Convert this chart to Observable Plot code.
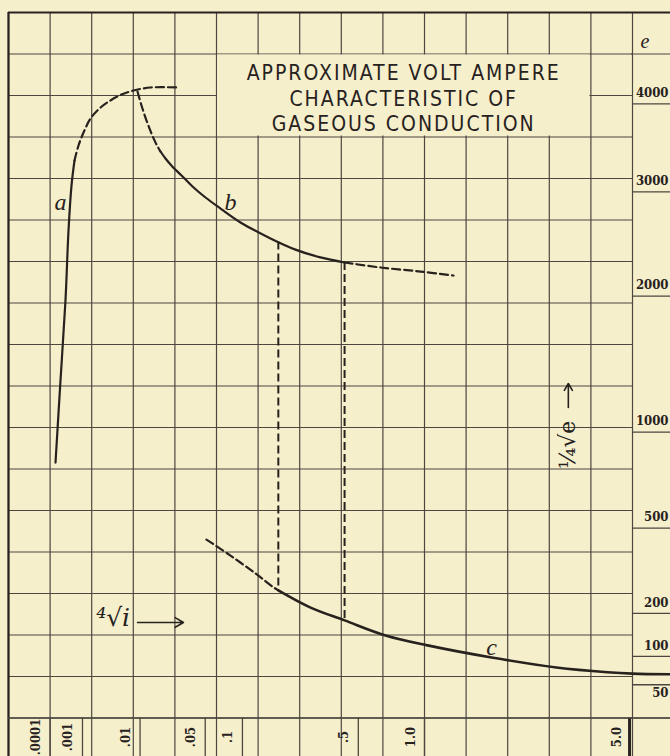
<!DOCTYPE html>
<html>
<head>
<meta charset="utf-8">
<script src="https://cdn.jsdelivr.net/npm/d3@7"></script>
<script src="https://cdn.jsdelivr.net/npm/@observablehq/plot@0.6"></script>
<style>
  html, body { margin: 0; padding: 0; background: #f6efcc; }
  #chart svg { display: block; }
</style>
</head>
<body>
<div id="chart"></div>
<script>
// ---- Data (current i in amperes, voltage e in volts) ----
// curve a
const aSolidI = [0.000163, 0.000244, 0.000352, 0.000433, 0.000526, 0.000634];
const aSolidE = [763, 1262, 1870, 2499, 2951, 3219];
const aDashI  = [0.000634, 0.000802, 0.00111, 0.00151, 0.00229, 0.00361, 0.00544, 0.00815, 0.0136, 0.0273];
const aDashE  = [3219, 3385, 3555, 3694, 3813, 3909, 3980, 4030, 4067, 4067];
// curve b
const bDashTopI = [0.00925, 0.01045, 0.01211, 0.01396, 0.01602, 0.01782];
const bDashTopE = [4017, 3848, 3671, 3521, 3396, 3318];
const bSolidI = [0.01782, 0.02029, 0.02415, 0.02991, 0.03827, 0.05029, 0.06745, 0.09673, 0.1573, 0.2265, 0.316, 0.426];
const bSolidE = [3318, 3241, 3152, 3057, 2941, 2827, 2715, 2577, 2423, 2318, 2246, 2200];
const bDashTailI = [0.426, 0.639, 0.962, 1.31];
const bDashTailE = [2200, 2155, 2119, 2084];
// curve c
const cDashI = [0.0513, 0.0811, 0.124, 0.165, 0.177];
const cDashE = [408, 348, 287, 243, 234];
const cSolidI = [0.177, 0.278, 0.426, 0.675, 1.03, 1.82, 3.01, 4.30, 5.06, 6.41];
const cSolidE = [234, 186, 154, 120, 100, 78, 62, 55, 53, 52];
// vertical dashed drops between b and c
const dropI = [0.177, 0.426];
const dropTopE = [2390, 2200];
const dropBottomE = [234, 154];

// axis ticks
const iTicks = [0.0001, 0.001, 0.01, 0.05, 0.1, 0.5, 1.0, 5.0];
const iTickLabels = [".0001", ".001", ".01", ".05", ".1", ".5", "1.0", "5.0"];
const eTicks = [4000, 3000, 2000, 1000, 500, 200, 100, 50];

// annotations
const curveNames = ["a", "b", "c"];
const curveNameI = [0.000244, 0.0811, 1.82];
const curveNameE = [2774, 2774, 96];
const titleLines = ["APPROXIMATE VOLT AMPERE", "CHARACTERISTIC OF", "GASEOUS CONDUCTION"];
const xName = "\u2074\u221Ai";
const xNameAnchor = {i: 0.00400, e: 160};
const xArrowI = [0.00925, 0.0313];
const xArrowE = 149;
const yName = "\u00BC\u221Ae";
const yNameAnchor = {i: 3.28, e: 860};
const yArrowI = 3.28;
const yArrowE = [1084, 1242];

// graph-paper ruling: every 0.1 of the fourth root of i, every 4 of the square root of e
const gridRootI = d3.range(0, 16).map(k => k / 10);
const gridI = gridRootI.map(r => r ** 4);
const gridSqrtE = d3.range(0, 18).map(k => 3 + 4 * k);
const gridE = gridSqrtE.map(s => s * s);
const boxRootI = [0.5, 1.4];
const boxSqrtE = [59, 67];

const zip = (xs, ys) => xs.map((x, k) => ({i: x, e: ys[k]}));

const ink = "#27221e";
const gridInk = "#4d4740";
const paper = "#f6efcc";
const serif = "'DejaVu Serif Condensed', 'DejaVu Serif', serif";
const italic = "'Liberation Serif', 'DejaVu Serif', serif";
const dash = "8,4";

const W = 670, H = 756;
const mL = 8, mR = 38, mT = 12, mB = 38.5;
const frameW = W - mL - mR, frameH = H - mT - mB;

const chart = Plot.plot({
  width: W,
  height: H,
  marginLeft: mL, marginRight: mR, marginTop: mT, marginBottom: mB,
  style: {background: paper, overflow: "visible"},
  x: {type: "pow", exponent: 0.25, domain: [0, 1.5 ** 4], axis: null},
  y: {type: "sqrt", domain: [gridE[0], gridE[gridE.length - 1]], axis: null},
  marks: [
    // vertical ruling (extends through the label row)
    Plot.ruleX(gridI, {stroke: gridInk, strokeWidth: 1.2, insetBottom: -mB}),
    // horizontal ruling
    Plot.ruleY(gridE, {stroke: gridInk, strokeWidth: 1.2}),
    // lines continuing into the right-hand label column
    Plot.ruleY([gridE[0], gridE[16], gridE[17]], {stroke: gridInk, strokeWidth: 1.2, insetLeft: frameW - 1, insetRight: -mR}),
    // under-rules in the right label column
    Plot.ruleY(eTicks.slice(0, 7), {stroke: gridInk, strokeWidth: 1.3, dy: 11, insetLeft: frameW, insetRight: -mR}),
    Plot.ruleY([eTicks[7]], {stroke: gridInk, strokeWidth: 1.3, dy: 9, insetLeft: frameW, insetRight: -mR}),
    // separators in the bottom label row
    Plot.ruleX(iTicks.slice(0, 7), {stroke: gridInk, strokeWidth: 1.3, insetTop: frameH, insetBottom: -mB}),
    Plot.ruleX([iTicks[7]], {stroke: ink, strokeWidth: 3, dx: -1, insetTop: frameH, insetBottom: -mB}),
    // heavier border on the left and top
    Plot.ruleX([gridI[0]], {stroke: ink, strokeWidth: 2.2, insetBottom: -mB}),
    Plot.ruleY([gridE[17]], {stroke: ink, strokeWidth: 2, insetRight: -mR}),
    Plot.ruleY([gridE[0]], {stroke: gridInk, strokeWidth: 1.6, insetRight: -mR}),

    // cleared box for the title
    Plot.rect([{x1: boxRootI[0] ** 4, x2: boxRootI[1] ** 4, y1: boxSqrtE[0] ** 2, y2: boxSqrtE[1] ** 2}],
      {x1: "x1", x2: "x2", y1: "y1", y2: "y2", fill: paper, inset: 1}),
    Plot.text([titleLines.join("\n")], {
      x: () => ((boxRootI[0] + boxRootI[1]) / 2) ** 4,
      y: () => ((boxSqrtE[0] + boxSqrtE[1]) / 2) ** 2,
      text: d => d, dy: 2, lineHeight: 1.21,
      fontFamily: "'DejaVu Sans Condensed', 'DejaVu Sans', sans-serif",
      fontSize: 21, fill: ink
    }),

    // curve a
    Plot.line(zip(aSolidI, aSolidE), {x: "i", y: "e", curve: "catmull-rom", stroke: ink, strokeWidth: 2.2}),
    Plot.line(zip(aDashI, aDashE), {x: "i", y: "e", curve: "catmull-rom", stroke: ink, strokeWidth: 2.2, strokeDasharray: dash}),
    // curve b
    Plot.line(zip(bDashTopI, bDashTopE), {x: "i", y: "e", curve: "catmull-rom", stroke: ink, strokeWidth: 2.2, strokeDasharray: dash}),
    Plot.line(zip(bSolidI, bSolidE), {x: "i", y: "e", curve: "catmull-rom", stroke: ink, strokeWidth: 2.2}),
    Plot.line(zip(bDashTailI, bDashTailE), {x: "i", y: "e", curve: "catmull-rom", stroke: ink, strokeWidth: 2.2, strokeDasharray: dash}),
    // curve c
    Plot.line(zip(cDashI, cDashE), {x: "i", y: "e", curve: "catmull-rom", stroke: ink, strokeWidth: 2.2, strokeDasharray: dash}),
    Plot.line(zip(cSolidI, cSolidE), {x: "i", y: "e", curve: "catmull-rom", stroke: ink, strokeWidth: 2.6}),
    // vertical dashed drops
    Plot.ruleX(dropI.map((v, k) => ({i: v, top: dropTopE[k], bottom: dropBottomE[k]})),
      {x: "i", y1: "top", y2: "bottom", stroke: ink, strokeWidth: 2, strokeDasharray: dash}),

    // curve names
    Plot.text(curveNames.map((n, k) => ({n, i: curveNameI[k], e: curveNameE[k]})),
      {x: "i", y: "e", text: "n", fontFamily: italic, fontStyle: "italic", fontSize: 24, fill: ink}),

    // x-axis name: fourth root of i, with arrow
    Plot.text([xNameAnchor], {x: "i", y: "e", text: () => xName, fontFamily: "'DejaVu Serif', serif", fontStyle: "italic", fontSize: 25, fill: ink}),
    Plot.arrow([{x1: xArrowI[0], x2: xArrowI[1]}], {x1: "x1", x2: "x2", y1: () => xArrowE, y2: () => xArrowE, stroke: ink, strokeWidth: 1.6, headLength: 9}),

    // y-axis name: root of e, with arrow
    Plot.text([yNameAnchor], {x: "i", y: "e", text: () => yName, rotate: -90, fontFamily: "'DejaVu Serif', serif", fontSize: 22, fill: ink}),
    Plot.arrow([{y1: yArrowE[0], y2: yArrowE[1]}], {x1: () => yArrowI, x2: () => yArrowI, y1: "y1", y2: "y2", stroke: ink, strokeWidth: 1.6, headLength: 9}),

    // y tick labels in the right column
    Plot.text(eTicks.slice(0, 7), {y: d => d, text: d => String(d), frameAnchor: "right", dx: 36, textAnchor: "end",
      fontFamily: serif, fontWeight: "bold", fontSize: 13, fill: ink}),
    Plot.text([eTicks[7]], {y: d => d, text: d => String(d), frameAnchor: "right", dx: 36, dy: 17, textAnchor: "end",
      fontFamily: serif, fontWeight: "bold", fontSize: 13, fill: ink}),
    Plot.text(["e"], {frameAnchor: "top-right", text: d => d, dx: 17, dy: 21, fontFamily: italic, fontStyle: "italic", fontSize: 20, fill: ink}),

    // x tick labels in the bottom row (rotated)
    Plot.text(iTicks.map((v, k) => ({v, label: iTickLabels[k]})), {x: "v", text: "label", frameAnchor: "bottom",
      rotate: -90, dx: -10, dy: 19, fontFamily: serif, fontWeight: "bold", fontSize: 13, fill: ink})
  ]
});

// letter spacing for the title
chart.querySelectorAll("text").forEach(t => {
  if (t.textContent.includes("APPROXIMATE")) t.style.letterSpacing = "2px";
});

document.getElementById("chart").append(chart);
</script>
</body>
</html>
